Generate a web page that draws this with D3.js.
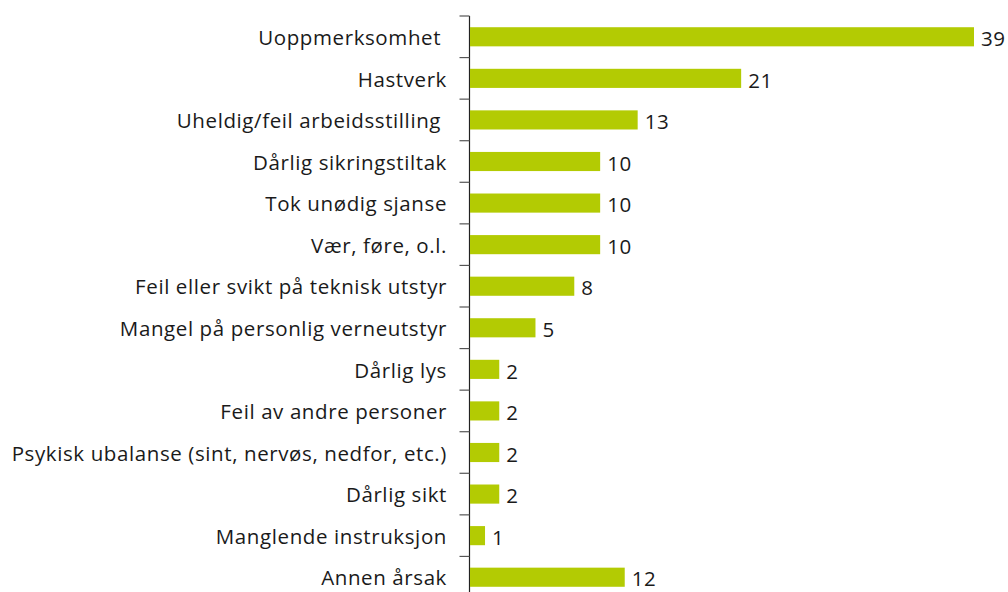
<html>
<head>
  <script src="https://cdnjs.cloudflare.com/ajax/libs/d3/7.8.5/d3.min.js"></script>
  <style>
    body { margin: 0; background: #fff; }
    svg text { font-family: "Open Sans", sans-serif; fill: #1a1a1a; white-space: pre; letter-spacing: 0.6px; }
  </style>
</head>
<body>
<script>
  var categories = ['Uoppmerksomhet ', 'Hastverk', 'Uheldig/feil arbeidsstilling ', 'Dårlig sikringstiltak',
    'Tok unødig sjanse', 'Vær, føre, o.l.', 'Feil eller svikt på teknisk utstyr', 'Mangel på personlig verneutstyr',
    'Dårlig lys', 'Feil av andre personer', 'Psykisk ubalanse (sint, nervøs, nedfor, etc.)', 'Dårlig sikt',
    'Manglende instruksjon', 'Annen årsak'];
  // bar lengths; labels show them rounded
  var values = [39, 21, 13, 10.1, 10.1, 10.1, 8.1, 5.1, 2.3, 2.3, 2.3, 2.3, 1.2, 12];

  var width = 1008, height = 592;
  var x0 = 469.5;

  var svg = d3.select('body').append('svg')
    .attr('width', width)
    .attr('height', height);

  var x = d3.scaleLinear().domain([0, 39]).range([x0, 974]);
  var y = d3.scaleBand().domain(categories).range([16, 598]).paddingInner(0.54).paddingOuter(0.27);

  // axis line + ticks between the bands
  svg.append('line')
    .attr('x1', x0).attr('x2', x0)
    .attr('y1', 16).attr('y2', 598)
    .attr('stroke', '#222').attr('stroke-width', 1.2);

  var step = y.step();
  svg.selectAll('.tick')
    .data(d3.range(categories.length + 1))
    .enter().append('line')
    .attr('x1', x0 - 10).attr('x2', x0)
    .attr('y1', function(d) { return 16 + d * step; })
    .attr('y2', function(d) { return 16 + d * step; })
    .attr('stroke', '#555').attr('stroke-width', 1.2);

  svg.selectAll('.bar')
    .data(values)
    .enter().append('rect')
    .attr('x', x0 + 0.5)
    .attr('y', function(d, i) { return y(categories[i]); })
    .attr('width', function(d) { return x(d) - x0 - 0.5; })
    .attr('height', y.bandwidth())
    .attr('fill', '#b3cb03');

  svg.selectAll('.label')
    .data(categories)
    .enter().append('text')
    .attr('x', 447)
    .attr('y', function(d) { return y(d) + y.bandwidth() / 2; })
    .attr('dy', '0.4em')
    .attr('text-anchor', 'end')
    .attr('font-size', '20.5px')
    .text(function(d) { return d; });

  svg.selectAll('.value')
    .data(values)
    .enter().append('text')
    .attr('x', function(d) { return x(d) + 7; })
    .attr('y', function(d, i) { return y(categories[i]) + y.bandwidth() / 2; })
    .attr('dy', '0.45em')
    .attr('font-size', '20.5px')
    .text(function(d) { return Math.round(d); });
</script>
</body>
</html>
